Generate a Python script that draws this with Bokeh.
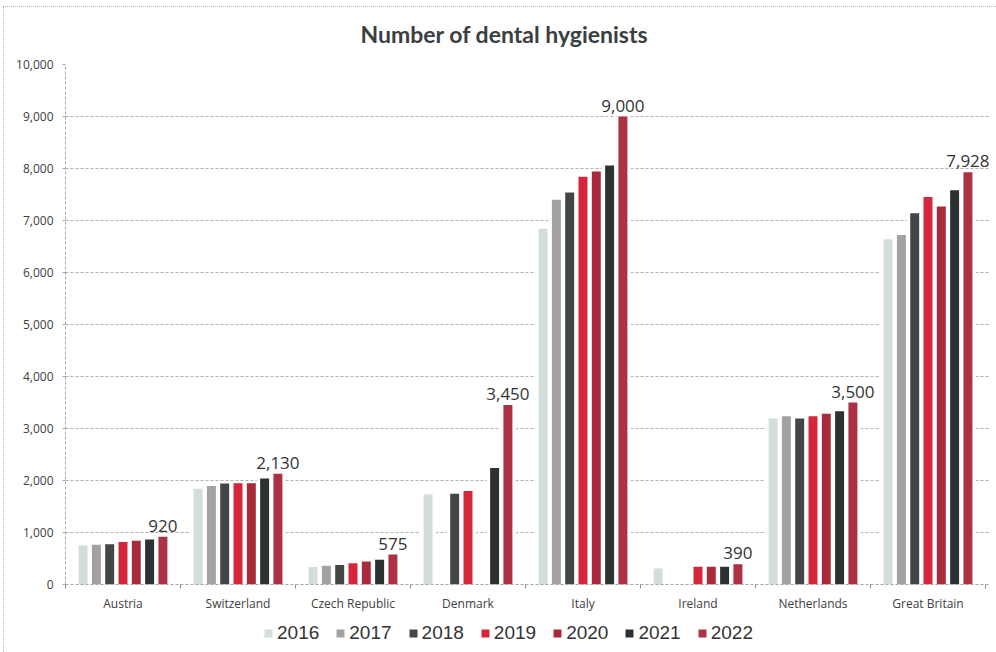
import math

from bokeh.embed import file_html
from bokeh.core.properties import value
from bokeh.layouts import column
from bokeh.models import (ColumnDataSource, FixedTicker, InlineStyleSheet,
                          LabelSet, Legend, LegendItem, NumeralTickFormatter, Range1d)
from bokeh.plotting import figure
from bokeh.resources import INLINE

# ---- data -------------------------------------------------------------
countries = ["Austria", "Switzerland", "Czech Republic", "Denmark",
             "Italy", "Ireland", "Netherlands", "Great Britain"]
years = ["2016", "2017", "2018", "2019", "2020", "2021", "2022"]

NA = float("nan")
y2016 = [750, 1840, 335, 1735, 6840, 310, 3190, 6640]
y2017 = [765, 1895, 360, NA, 7400, NA, 3235, 6720]
y2018 = [775, 1940, 375, 1745, 7540, NA, 3190, 7140]
y2019 = [815, 1945, 410, 1800, 7840, 340, 3235, 7450]
y2020 = [840, 1945, 440, NA, 7940, 340, 3285, 7270]
y2021 = [865, 2040, 475, 2240, 8060, 340, 3330, 7580]
y2022 = [920, 2130, 575, 3450, 9000, 390, 3500, 7928]

series = [y2016, y2017, y2018, y2019, y2020, y2021, y2022]
colors = ["#d3dddb", "#a3a2a0", "#424646", "#d6263b",
          "#a82a3b", "#2c3231", "#ad3043"]

# ---- geometry of the grouped bars -------------------------------------
n = len(countries)
slot = 0.1157          # distance between neighbouring bars of a group
bar_w = 0.078          # width of a single bar
back_w = 0.135         # white backing that interrupts the grid behind bars
x_end = n * 925 / 920  # a little room on the right for the last value label

W = 996
H_CHART = 615
H_LEGEND = 37

p = figure(width=W, height=H_CHART, x_range=Range1d(0, x_end), y_range=Range1d(0, 10000),
           output_backend="svg", toolbar_location=None,
           min_border_left=65, min_border_right=6, min_border_top=64,
           min_border_bottom=31, outline_line_color=None,
           background_fill_color="white", border_fill_color="white")

# title
p.title.text = "Number of dental hygienists"
p.title.align = "left"
p.title.offset = 295
p.title.standoff = 34
p.title.text_font = "Lato"
p.title.text_font_style = "bold"
p.title.text_font_size = "23px"
p.title.text_color = "#3a4040"

# grid
p.xgrid.visible = False
p.ygrid.ticker = FixedTicker(ticks=list(range(0, 10001, 1000)))
p.ygrid.grid_line_color = "#b0b0b0"
p.ygrid.grid_line_dash = "3 2"
p.ygrid.grid_line_width = 1

# y axis
p.yaxis.ticker = FixedTicker(ticks=list(range(0, 10001, 1000)))
p.yaxis.formatter = NumeralTickFormatter(format="0,0")
p.yaxis.axis_line_color = "#a6a6a6"
p.yaxis.axis_line_dash = "3 2"
p.yaxis.major_tick_line_color = "#a6a6a6"
p.yaxis.major_tick_out = 3
p.yaxis.major_tick_in = 0
p.yaxis.minor_tick_line_color = None
p.yaxis.major_label_standoff = 9
p.yaxis.major_label_text_font = "Open Sans"
p.yaxis.major_label_text_font_size = "12px"
p.yaxis.major_label_text_color = "#404040"

# x axis: names at group centres, small ticks at group boundaries
centers = [i + 0.5 for i in range(n)]
p.xaxis.ticker = FixedTicker(ticks=centers, minor_ticks=list(range(n + 1)))
p.xaxis.major_label_overrides = {c: name for c, name in zip(centers, countries)}
p.xaxis.major_tick_line_color = None
p.xaxis.major_tick_out = 0
p.xaxis.major_tick_in = 0
p.xaxis.minor_tick_line_color = "#8a8a8a"
p.xaxis.minor_tick_out = 4
p.xaxis.minor_tick_in = 0
p.xaxis.axis_line_color = "#a6a6a6"
p.xaxis.axis_line_dash = "3 2"
p.xaxis.major_label_standoff = 6
p.xaxis.major_label_text_font = "Open Sans"
p.xaxis.major_label_text_font_size = "12px"
p.xaxis.major_label_text_color = "#404040"


def bar_source(j, vals):
    xs, tops = [], []
    for i, v in enumerate(vals):
        if not math.isnan(v):
            xs.append(i + 0.5 + (j - 3) * slot)
            tops.append(v)
    return ColumnDataSource(data=dict(x=xs, top=tops))


sources = [bar_source(j, vals) for j, vals in enumerate(series)]

# white backing first, so the dashed grid disappears behind each group
for src in sources:
    p.vbar(x="x", top="top", width=back_w, source=src,
           fill_color="white", line_color=None)

for src, col in zip(sources, colors):
    p.vbar(x="x", top="top", width=bar_w, source=src,
           fill_color=col, line_color=None)

# value labels on the latest year
lab_src = ColumnDataSource(data=dict(
    x=[i + 0.5 + 3 * slot for i in range(n)],
    y=y2022,
    text=[f"{v:,}" for v in y2022],
))
p.add_layout(LabelSet(x="x", y="y", text="text", source=lab_src,
                      text_align="center", text_baseline="alphabetic",
                      y_offset=5, text_font=value("Open Sans"),
                      text_font_size="17px", text_color="#333333",
                      background_fill_color="white"))

# ---- legend strip under the chart -------------------------------------
# its frame lines up with the chart frame (left edge at 65 px)
leg = figure(width=W, height=H_LEGEND, x_range=Range1d(0, 1), y_range=Range1d(0, 1),
             output_backend="svg", toolbar_location=None,
             x_axis_location=None, y_axis_location=None, min_border=0,
             outline_line_color=None, background_fill_color="white",
             border_fill_color="white")
leg.xgrid.visible = False
leg.ygrid.visible = False
# swatch renderers sit outside the visible range; only their legend glyphs show
swatches = [leg.vbar(x=[5], top=[0], width=0.1, fill_color=c, line_color=None)
            for c in colors]
legend = Legend(items=[LegendItem(label=y, renderers=[r]) for y, r in zip(years, swatches)],
                orientation="horizontal", location=(198, 8),
                glyph_width=10, glyph_height=10, label_standoff=4, spacing=16,
                padding=0, margin=0, border_line_color=None,
                background_fill_alpha=0,
                label_text_font="Liberation Sans", label_text_font_size="19px",
                label_text_color="#333333")
leg.add_layout(legend, "center")

page = column(p, leg, spacing=0)
page.stylesheets = [InlineStyleSheet(css="""
:host { position: relative; }
:host::after { content: ""; position: absolute; left: 3px; top: 6px; right: 0; bottom: 0;
  border-top: 1px dotted #b5b5b5; border-left: 1px dotted #b5b5b5;
  pointer-events: none; z-index: 5; }
""")]

open("out.html", "w").write(file_html(page, INLINE))
